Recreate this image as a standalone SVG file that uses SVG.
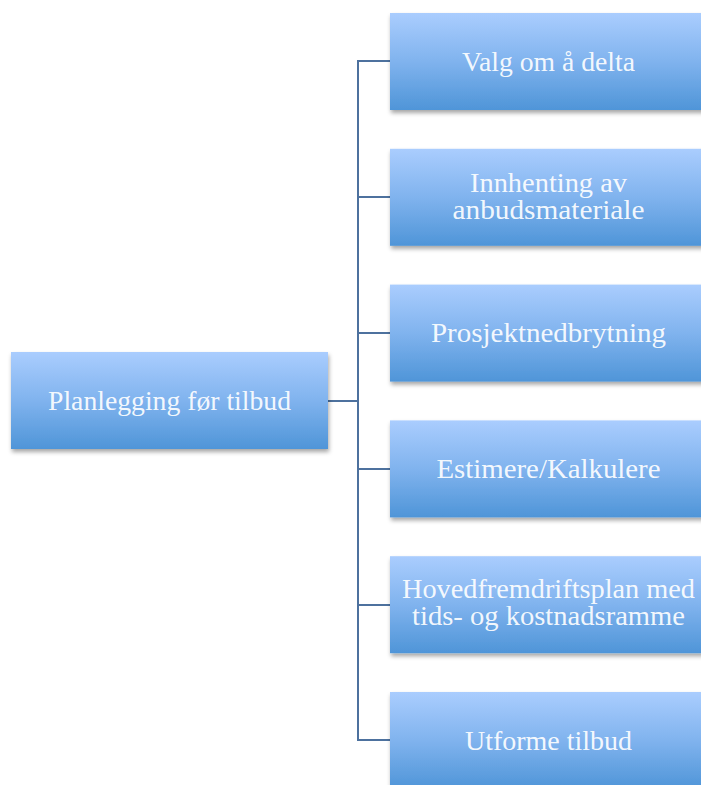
<svg xmlns="http://www.w3.org/2000/svg" width="701" height="785" viewBox="0 0 701 785">
  <defs>
    <linearGradient id="boxFill" x1="0" y1="0" x2="0" y2="1">
      <stop offset="0" stop-color="#AACDFE"/>
      <stop offset="0.5" stop-color="#80B3EE"/>
      <stop offset="1" stop-color="#4F95D8"/>
    </linearGradient>
    <filter id="shadow" x="-10%" y="-10%" width="125%" height="130%">
      <feDropShadow dx="1" dy="3" stdDeviation="2" flood-color="#000000" flood-opacity="0.35"/>
    </filter>
  </defs>
  <style>
    .box { fill: url(#boxFill); filter: url(#shadow); }
    .label { font-family: "Liberation Serif", "DejaVu Serif", serif; font-size: 27px; fill: #FFFFFF; fill-opacity: 0.93; text-anchor: middle; }
    .link { stroke: #4D719E; stroke-width: 2; fill: none; }
  </style>
  <rect width="701" height="785" fill="#FFFFFF"/>

  <!-- connectors -->
  <g id="connectors">
    <path class="link" d="M328 401 H358"/>
    <path class="link" d="M390 61 H358 V740 H390"/>
    <path class="link" d="M358 197 H390"/>
    <path class="link" d="M358 333 H390"/>
    <path class="link" d="M358 469 H390"/>
    <path class="link" d="M358 605 H390"/>
  </g>

  <!-- root -->
  <g id="root">
    <rect class="box" x="11" y="352" width="317" height="97"/>
    <text class="label" x="169.5" y="410" textLength="243" lengthAdjust="spacingAndGlyphs">Planlegging før tilbud</text>
  </g>

  <!-- steps -->
  <g id="step1">
    <rect class="box" x="390" y="13" width="317" height="97"/>
    <text class="label" x="548.5" y="71" textLength="173" lengthAdjust="spacingAndGlyphs">Valg om å delta</text>
  </g>
  <g id="step2">
    <rect class="box" x="390" y="148.8" width="317" height="97"/>
    <text class="label" x="548.5" y="192" textLength="157" lengthAdjust="spacingAndGlyphs">Innhenting av</text>
    <text class="label" x="548.5" y="219" textLength="192" lengthAdjust="spacingAndGlyphs">anbudsmateriale</text>
  </g>
  <g id="step3">
    <rect class="box" x="390" y="284.6" width="317" height="97"/>
    <text class="label" x="548.5" y="342" textLength="235" lengthAdjust="spacingAndGlyphs">Prosjektnedbrytning</text>
  </g>
  <g id="step4">
    <rect class="box" x="390" y="420.4" width="317" height="97"/>
    <text class="label" x="548.5" y="478" textLength="224" lengthAdjust="spacingAndGlyphs">Estimere/Kalkulere</text>
  </g>
  <g id="step5">
    <rect class="box" x="390" y="556.2" width="317" height="97"/>
    <text class="label" x="548.5" y="598" textLength="293" lengthAdjust="spacingAndGlyphs">Hovedfremdriftsplan med</text>
    <text class="label" x="548.5" y="625" textLength="273" lengthAdjust="spacingAndGlyphs">tids- og kostnadsramme</text>
  </g>
  <g id="step6">
    <rect class="box" x="390" y="692" width="317" height="97"/>
    <text class="label" x="548.5" y="750" textLength="167" lengthAdjust="spacingAndGlyphs">Utforme tilbud</text>
  </g>
</svg>
